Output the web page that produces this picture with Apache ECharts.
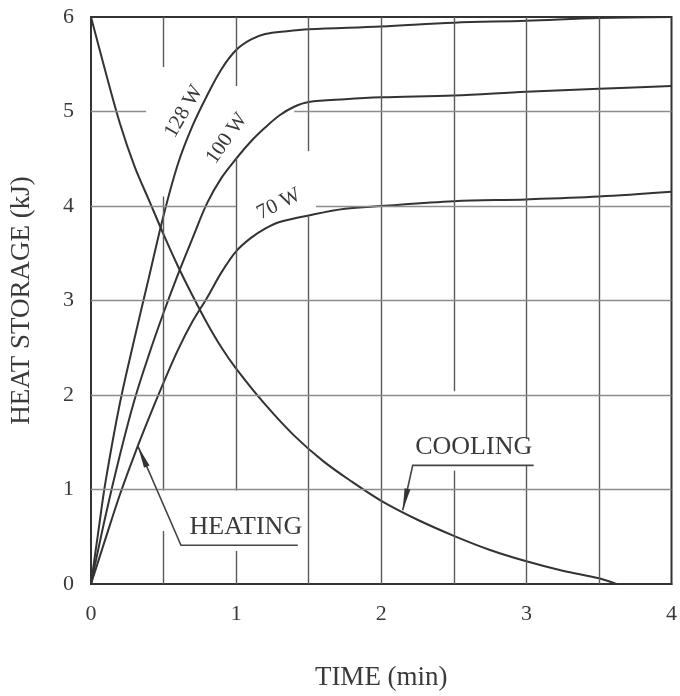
<!DOCTYPE html>
<html>
<head>
<meta charset="utf-8">
<script src="https://cdn.jsdelivr.net/npm/echarts@6/dist/echarts.min.js"></script>
<style>
  html, body { margin: 0; padding: 0; background: #fff; }
  #main { width: 680px; height: 696px; }
</style>
</head>
<body>
<div id="main"></div>
<script>
// time (min) / heat storage (kJ)
var t128 = [0, 0.05, 0.1, 0.2, 0.3, 0.4, 0.5, 0.6, 0.7, 0.8, 0.9, 1.0, 1.1, 1.2, 1.35, 1.5, 2, 2.5, 3, 3.5, 4];
var q128 = [0, 0.55, 1.08, 1.92, 2.6, 3.25, 3.9, 4.45, 4.85, 5.17, 5.45, 5.65, 5.76, 5.82, 5.85, 5.87, 5.9, 5.94, 5.96, 5.99, 6.0];

var t100 = [0, 0.1, 0.2, 0.3, 0.4, 0.5, 0.6, 0.7, 0.8, 0.9, 1.0, 1.1, 1.2, 1.3, 1.4, 1.5, 1.75, 2, 2.5, 3, 3.5, 4];
var q100 = [0, 0.72, 1.37, 1.95, 2.43, 2.87, 3.28, 3.66, 4.03, 4.3, 4.5, 4.68, 4.83, 4.96, 5.05, 5.1, 5.13, 5.15, 5.17, 5.21, 5.24, 5.27];

var t70 = [0, 0.1, 0.2, 0.3, 0.4, 0.5, 0.6, 0.7, 0.8, 0.9, 1.0, 1.1, 1.2, 1.3, 1.5, 1.75, 2, 2.5, 3, 3.5, 4];
var q70 = [0, 0.48, 0.95, 1.37, 1.76, 2.13, 2.48, 2.78, 3.03, 3.3, 3.52, 3.66, 3.76, 3.83, 3.9, 3.97, 4.0, 4.05, 4.07, 4.1, 4.15];

var tCool = [0, 0.1, 0.2, 0.3, 0.4, 0.5, 0.6, 0.7, 0.8, 0.9, 1.0, 1.2, 1.4, 1.6, 1.8, 2.0, 2.25, 2.5, 2.75, 3.0, 3.25, 3.5, 3.62];
var qCool = [6.0, 5.42, 4.87, 4.42, 4.06, 3.7, 3.36, 3.05, 2.76, 2.5, 2.28, 1.9, 1.57, 1.3, 1.08, 0.88, 0.68, 0.51, 0.36, 0.24, 0.14, 0.06, 0.0];

var xTicks = [0, 1, 2, 3, 4];
var yTicks = [0, 1, 2, 3, 4, 5, 6];

var font = "'Liberation Serif', 'DejaVu Serif', serif";
var ink = '#3a3a3a';

function pairs(xs, ys) {
    var out = [];
    for (var i = 0; i < xs.length; i++) out.push([xs[i], ys[i]]);
    return out;
}

// grid lines, broken where the labels sit (as in the scan)
var vSegs = [
    [0.5, 6, 5.47], [0.5, 4.1, 0.99], [0.5, 0.56, 0],
    [1, 6, 5.27], [1, 4.51, 0.99], [1, 0.35, 0],
    [1.5, 6, 4.58], [1.5, 3.89, 0],
    [2, 6, 0],
    [2.5, 6, 2.04], [2.5, 1.2, 0],
    [3, 6, 1.54], [3, 1.26, 0],
    [3.5, 6, 0]
];
var hSegs = [
    [1, 0, 4], [2, 0, 4], [3, 0, 4],
    [4, 0, 1.0], [4, 1.55, 4],
    [5, 0, 0.38], [5, 1.4, 4]
];
var gridLines = [];
vSegs.forEach(function (s) {
    gridLines.push([{ coord: [s[0], s[1]], lineStyle: { color: '#5a5a5a', width: 1.4, type: 'solid' } }, { coord: [s[0], s[2]] }]);
});
hSegs.forEach(function (s) {
    gridLines.push([{ coord: [s[1], s[0]], lineStyle: { color: '#8c8c8c', width: 1.4, type: 'solid' } }, { coord: [s[2], s[0]] }]);
});

function curve(name, xs, ys) {
    return {
        name: name,
        type: 'line',
        data: pairs(xs, ys),
        smooth: 0.35,
        showSymbol: false,
        lineStyle: { color: '#333', width: 2 },
        z: 3
    };
}

var myChart = echarts.init(document.getElementById('main'));

var option = {
    animation: false,
    backgroundColor: '#fff',
    grid: {
        left: 90, right: 8, top: 17, bottom: 110,
        show: true, borderColor: '#333', borderWidth: 2
    },
    xAxis: {
        type: 'value', min: 0, max: 4, interval: 1,
        name: 'TIME (min)', nameLocation: 'middle', nameGap: 80,
        nameTextStyle: { fontFamily: font, fontSize: 27, color: ink },
        axisLine: { show: true, lineStyle: { color: '#333', width: 2 } },
        axisTick: { show: false },
        splitLine: { show: false },
        axisLabel: {
            margin: 19, fontFamily: font, fontSize: 22, color: ink,
            formatter: function (v) { return xTicks.indexOf(v) >= 0 ? String(v) : ''; }
        }
    },
    yAxis: {
        type: 'value', min: 0, max: 6, interval: 1,
        name: 'HEAT STORAGE (kJ)', nameLocation: 'middle', nameGap: 56, nameRotate: 90,
        nameTextStyle: { fontFamily: font, fontSize: 27, color: ink },
        axisLine: { show: true, lineStyle: { color: '#333', width: 2 } },
        axisTick: { show: false },
        splitLine: { show: false },
        axisLabel: {
            margin: 17, fontFamily: font, fontSize: 22, color: ink,
            formatter: function (v) { return yTicks.indexOf(v) >= 0 ? String(v) : ''; }
        }
    },
    series: [
        {
            name: 'grid',
            type: 'line',
            data: [],
            silent: true,
            z: 1,
            markLine: {
                silent: true,
                symbol: 'none',
                label: { show: false },
                lineStyle: { type: 'solid' },
                animation: false,
                data: gridLines
            }
        },
        curve('128 W', t128, q128),
        curve('100 W', t100, q100),
        curve('70 W', t70, q70),
        curve('COOLING', tCool, qCool)
    ]
};
myChart.setOption(option);

// annotations placed from data coordinates
function px(x, y) { return myChart.convertToPixel({ gridIndex: 0 }, [x, y]); }

function rotText(txt, x, y, deg, size) {
    var p = px(x, y);
    return {
        type: 'text', x: p[0], y: p[1], rotation: deg * Math.PI / 180, z: 10,
        style: { text: txt, fill: ink, font: size + 'px ' + font, align: 'center', verticalAlign: 'middle' }
    };
}

function leader(tip, elbow, end) {
    var a = px(tip[0], tip[1]), b = px(elbow[0], elbow[1]), c = px(end[0], end[1]);
    var dx = b[0] - a[0], dy = b[1] - a[1];
    var len = Math.sqrt(dx * dx + dy * dy);
    var ux = dx / len, uy = dy / len;
    var nx = -uy, ny = ux;
    var L = 22, w = 3;
    return [
        {
            type: 'polyline', z: 10,
            shape: { points: [a, b, c] },
            style: { stroke: '#444', lineWidth: 1.6, fill: null }
        },
        {
            type: 'polygon', z: 10,
            shape: {
                points: [
                    [a[0], a[1]],
                    [a[0] + ux * L + nx * w, a[1] + uy * L + ny * w],
                    [a[0] + ux * L - nx * w, a[1] + uy * L - ny * w]
                ]
            },
            style: { fill: '#333' }
        }
    ];
}

var g = [];
g.push(rotText('128 W', 0.64, 5.0, 60, 21));
g.push(rotText('100 W', 0.936, 4.715, 55, 21));
g.push(rotText('70 W', 1.294, 4.02, 27, 21));
g.push(rotText('HEATING', 1.067, 0.60, 0, 26));
g.push(rotText('COOLING', 2.637, 1.445, 0, 26));
g = g.concat(leader([0.324, 1.456], [0.62, 0.41], [1.425, 0.41]));
g = g.concat(leader([2.148, 0.78], [2.217, 1.255], [3.05, 1.255]));

myChart.setOption({ graphic: g });
</script>
</body>
</html>
